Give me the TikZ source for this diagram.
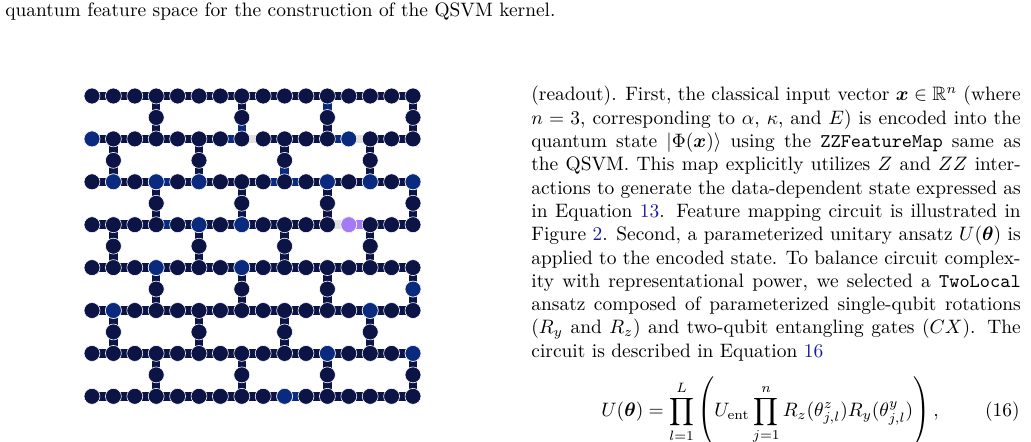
\documentclass[tikz,border=0pt]{standalone}
\usepackage{amsmath,amssymb,bm}
\usetikzlibrary{backgrounds,calc}

\definecolor{navy}{HTML}{0B1445}
\definecolor{qblue}{HTML}{0A2A80}
\definecolor{qpurple}{HTML}{A47BF5}
\definecolor{qgray}{HTML}{E0E0E0}
\definecolor{refblue}{HTML}{1A1AA0}

\tikzset{
  qubit/.style={circle, fill=navy, draw=white, line width=0.3pt, inner sep=0pt, minimum size=8.2pt},
  link/.style={draw=navy, line width=2.2pt},
  sq/.style={rectangle, fill=#1, inner sep=0pt, minimum size=4.4pt},
  sq/.default=navy
}
\newcommand{\xref}[1]{\textcolor{refblue}{#1}}

\begin{document}
\begin{tikzpicture}[x=0.515pt, y=-0.515pt]
  \useasboundingbox (0,0) rectangle (1031,441);

  % caption tail
  \node[anchor=base west, inner sep=0pt] (cap) at (5,16)
    {quantum feature space for the construction of the QSVM kernel.};

  % heavy-hex lattice
  \foreach \r in {0,...,7} {
    \foreach \c in {0,...,15} {
      \node[qubit] (q-\r-\c) at ({92+21.4*\c},{96+42.9*\r}) {};
    }
  }
  \foreach \r in {0,...,6} {
    \pgfmathtruncatemacro{\off}{mod(\r,2)==0 ? 3 : 1}
    \foreach \k in {0,...,3} {
      \pgfmathtruncatemacro{\c}{\off+4*\k}
      \pgfmathtruncatemacro{\s}{\r+1}
      \node[qubit] (m-\r-\c) at ($(q-\r-\c)!0.5!(q-\s-\c)$) {};
    }
  }

  \begin{pgfonlayer}{background}
    \foreach \r in {0,...,7} {
      \foreach \c in {0,...,14} {
        \pgfmathtruncatemacro{\n}{\c+1}
        \draw[link] (q-\r-\c) -- node[sq]{} (q-\r-\n);
      }
    }
    \foreach \r in {0,...,6} {
      \pgfmathtruncatemacro{\off}{mod(\r,2)==0 ? 3 : 1}
      \pgfmathtruncatemacro{\s}{\r+1}
      \foreach \k in {0,...,3} {
        \pgfmathtruncatemacro{\c}{\off+4*\k}
        \draw[link] (q-\r-\c) -- node[sq]{} (m-\r-\c);
        \draw[link] (m-\r-\c) -- node[sq]{} (q-\s-\c);
      }
    }
    % highlighted couplers
    \foreach \a/\b in {q-1-6/q-1-7, q-1-11/q-1-12, q-2-3/q-2-4, q-2-8/q-2-9,
                       q-2-9/q-2-10, q-3-3/q-3-4, q-7-9/q-7-10,
                       q-0-11/m-0-11, m-0-7/q-1-7, m-1-9/q-2-9}
      \draw[link, draw=qblue] (\a) -- node[sq=qblue]{} (\b);
    \foreach \a/\b in {q-1-7/q-1-8, q-1-12/q-1-13, q-3-11/q-3-12}
      \draw[link, draw=qgray] (\a) -- node[sq=qgray]{} (\b);
    \draw[link, draw=qpurple] (q-3-12) -- node[sq=qpurple]{} (q-3-13);
  \end{pgfonlayer}

  % highlighted qubits
  \foreach \q in {q-1-0, q-1-12, q-2-1, q-2-3, q-2-5, q-2-11, q-2-13, q-2-15,
                  q-3-5, q-3-7, q-4-3, q-4-7, q-5-1, q-5-13, q-6-11, q-6-15,
                  q-7-9, m-4-15}
    \node[qubit, fill=qblue] at (\q) {};
  \node[qubit, fill=qpurple] at (q-3-12) {};

  % text column
  \node[anchor=north west, inner sep=0pt, text width=252pt, align=justify] (body) at (531,86)
    {\noindent (readout). First, the classical input vector $\bm{x}\in\mathbb{R}^n$ (where
    $n=3$, corresponding to $\alpha$, $\kappa$, and $E$) is encoded into the
    quantum state $|\Phi(\bm{x})\rangle$ using the \texttt{ZZFeatureMap} same as
    the QSVM. This map explicitly utilizes $Z$ and $ZZ$ interactions to generate
    the data-dependent state expressed as in Equation~\xref{13}. Feature mapping
    circuit is illustrated in Figure~\xref{2}. Second, a parameterized unitary
    ansatz $U(\bm{\theta})$ is applied to the encoded state. To balance circuit
    complexity with representational power, we selected a \texttt{TwoLocal}
    ansatz composed of parameterized single-qubit rotations ($R_y$ and $R_z$)
    and two-qubit entangling gates ($CX$). The circuit is described in
    Equation~\xref{16}\par};

  % equation
  \node[inner sep=0pt] (eq) at (770,412)
    {$\displaystyle U(\bm{\theta})=\prod_{l=1}^{L}\left(U_{\text{ent}}\prod_{j=1}^{n}
      R_z(\theta^z_{j,l})R_y(\theta^y_{j,l})\right),$};
  \node[anchor=east, inner sep=0pt] (eqno) at (1020,412) {(16)};
\end{tikzpicture}
\end{document}
